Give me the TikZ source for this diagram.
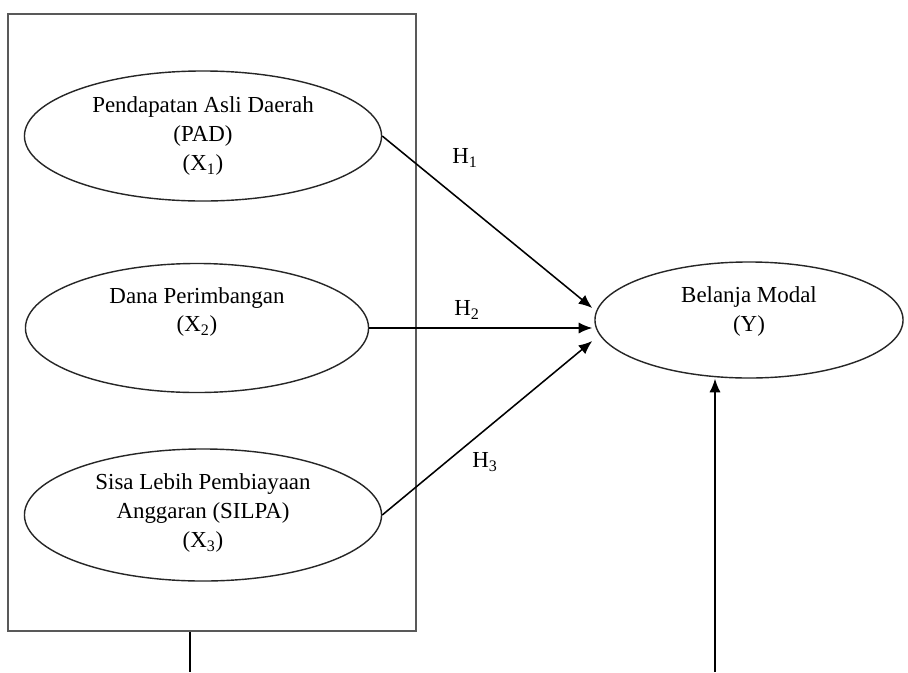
\documentclass[tikz,border=0pt]{standalone}
\usepackage{fontspec}
\setmainfont{Liberation Serif}
\usetikzlibrary{positioning}
\usetikzlibrary{calc}
\usetikzlibrary{shapes.geometric}
\usetikzlibrary{arrows.meta}

\begin{document}
\begin{tikzpicture}[>={Latex[length=0.34cm,width=0.28cm]}, x=0.025cm, y=-0.025cm,
    font=\fontsize{16.3}{20.6}\selectfont]
  % definition of the basic styles.
  \tikzset{
    var/.style={draw=black!85, line width=1pt, ellipse, inner sep=0pt},
    vartext/.style={align=center, inner sep=0pt},
    frame/.style={draw=black!65, line width=1.3pt, rectangle, inner sep=0pt,
      minimum width=10.2cm, minimum height=15.425cm},
    link/.style={->, line width=1.1pt}
  }
  % The white background that fixes the size of the page
  \useasboundingbox[fill=white] (0,0) rectangle (908,672);

  % The frame round the independent variables
  \node[frame] (box) at (212,322.5) {};

  % Independent variables
  \node[var, minimum width=8.925cm, minimum height=3.25cm] (X1) at (203,136) {};
  \node[var, minimum width=8.575cm, minimum height=3.225cm] (X2) at (197,328) {};
  \node[var, minimum width=8.925cm, minimum height=3.3cm] (X3) at (203,515) {};
  % Dependent variable
  \node[var, minimum width=7.7cm, minimum height=2.9cm] (Y) at (749,320) {};

  % Texts of the variables
  \node[vartext] (X1t) at (X1.center) {Pendapatan Asli Daerah\\(PAD)\\(X\textsubscript{1})};
  \node[vartext] (X2t) at ([yshift=0.4cm]X2.center) {Dana Perimbangan\\(X\textsubscript{2})};
  \node[vartext] (X3t) at ([yshift=0.05cm]X3.center) {Sisa Lebih Pembiayaan\\Anggaran (SILPA)\\(X\textsubscript{3})};
  \node[vartext] (Yt) at ([yshift=0.21cm]Y.center) {Belanja Modal\\(Y)};

  % The hypotheses
  \draw[link] (X1.east) -- ([xshift=-0.05cm,yshift=0.3cm]Y.west);
  \draw[link] (X2.east) -- ([xshift=-0.05cm]X2.east -| Y.west);
  \draw[link] (X3.east) -- ([xshift=-0.05cm,yshift=-0.525cm]Y.west);
  \node (H1) at (465,158) {H\textsubscript{1}};
  \node (H2) at (467,310) {H\textsubscript{2}};
  \node (H3) at (485,462) {H\textsubscript{3}};

  % support lines leaving the picture at the bottom
  \coordinate (xb) at (190,672);
  \coordinate (yb) at (715,672);
  \draw[line width=1.1pt] (xb |- box.south) -- (xb);
  \draw[link] (yb) -- (yb |- Y.south);
\end{tikzpicture}
\end{document}
